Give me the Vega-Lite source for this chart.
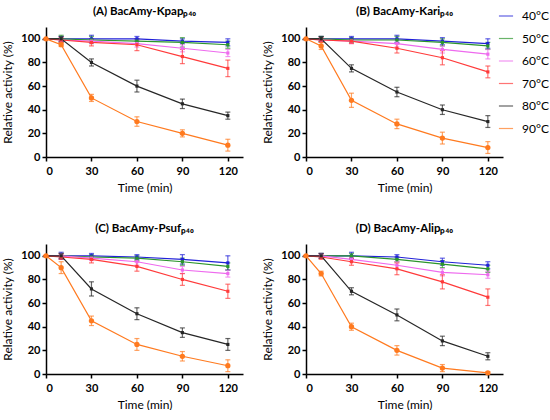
{
  "$schema": "https://vega.github.io/schema/vega-lite/v6.json",
  "padding": {"left": 1, "top": 5, "right": 0, "bottom": 0},
  "background": "white",
  "data": {"values": [
    {"p":"A","t":"40°C","x":0,"y":100,"e":0},{"p":"A","t":"40°C","x":10,"y":100,"e":2},{"p":"A","t":"40°C","x":30,"y":100,"e":3},{"p":"A","t":"40°C","x":60,"y":100,"e":2},{"p":"A","t":"40°C","x":90,"y":98,"e":2},{"p":"A","t":"40°C","x":120,"y":97,"e":3},
    {"p":"A","t":"50°C","x":0,"y":100,"e":0},{"p":"A","t":"50°C","x":10,"y":100,"e":3},{"p":"A","t":"50°C","x":30,"y":99,"e":3},{"p":"A","t":"50°C","x":60,"y":98,"e":2},{"p":"A","t":"50°C","x":90,"y":97,"e":4},{"p":"A","t":"50°C","x":120,"y":95,"e":3},
    {"p":"A","t":"60°C","x":0,"y":100,"e":0},{"p":"A","t":"60°C","x":10,"y":99,"e":2},{"p":"A","t":"60°C","x":30,"y":98,"e":2},{"p":"A","t":"60°C","x":60,"y":96,"e":3},{"p":"A","t":"60°C","x":90,"y":92,"e":3},{"p":"A","t":"60°C","x":120,"y":88,"e":3},
    {"p":"A","t":"70°C","x":0,"y":100,"e":0},{"p":"A","t":"70°C","x":10,"y":99,"e":2},{"p":"A","t":"70°C","x":30,"y":97,"e":3},{"p":"A","t":"70°C","x":60,"y":95,"e":5},{"p":"A","t":"70°C","x":90,"y":85,"e":6},{"p":"A","t":"70°C","x":120,"y":75,"e":7},
    {"p":"A","t":"80°C","x":0,"y":100,"e":0},{"p":"A","t":"80°C","x":10,"y":100,"e":2},{"p":"A","t":"80°C","x":30,"y":80,"e":3},{"p":"A","t":"80°C","x":60,"y":60,"e":5},{"p":"A","t":"80°C","x":90,"y":45,"e":4},{"p":"A","t":"80°C","x":120,"y":35,"e":3},
    {"p":"A","t":"90°C","x":0,"y":100,"e":0},{"p":"A","t":"90°C","x":10,"y":95,"e":1.5},{"p":"A","t":"90°C","x":30,"y":50,"e":3},{"p":"A","t":"90°C","x":60,"y":30,"e":4},{"p":"A","t":"90°C","x":90,"y":20,"e":3},{"p":"A","t":"90°C","x":120,"y":10,"e":5},

    {"p":"B","t":"40°C","x":0,"y":100,"e":0},{"p":"B","t":"40°C","x":10,"y":100,"e":2},{"p":"B","t":"40°C","x":30,"y":100,"e":2},{"p":"B","t":"40°C","x":60,"y":100,"e":3},{"p":"B","t":"40°C","x":90,"y":98,"e":3},{"p":"B","t":"40°C","x":120,"y":96,"e":4},
    {"p":"B","t":"50°C","x":0,"y":100,"e":0},{"p":"B","t":"50°C","x":10,"y":100,"e":2},{"p":"B","t":"50°C","x":30,"y":99,"e":2},{"p":"B","t":"50°C","x":60,"y":99,"e":3},{"p":"B","t":"50°C","x":90,"y":97,"e":3},{"p":"B","t":"50°C","x":120,"y":94,"e":3},
    {"p":"B","t":"60°C","x":0,"y":100,"e":0},{"p":"B","t":"60°C","x":10,"y":99,"e":2},{"p":"B","t":"60°C","x":30,"y":98,"e":2},{"p":"B","t":"60°C","x":60,"y":96,"e":3},{"p":"B","t":"60°C","x":90,"y":91,"e":3},{"p":"B","t":"60°C","x":120,"y":87,"e":4},
    {"p":"B","t":"70°C","x":0,"y":100,"e":0},{"p":"B","t":"70°C","x":10,"y":99,"e":2},{"p":"B","t":"70°C","x":30,"y":98,"e":2},{"p":"B","t":"70°C","x":60,"y":92,"e":4},{"p":"B","t":"70°C","x":90,"y":84,"e":6},{"p":"B","t":"70°C","x":120,"y":72,"e":5},
    {"p":"B","t":"80°C","x":0,"y":100,"e":0},{"p":"B","t":"80°C","x":10,"y":100,"e":2},{"p":"B","t":"80°C","x":30,"y":75,"e":3},{"p":"B","t":"80°C","x":60,"y":55,"e":4},{"p":"B","t":"80°C","x":90,"y":40,"e":4},{"p":"B","t":"80°C","x":120,"y":30,"e":5},
    {"p":"B","t":"90°C","x":0,"y":100,"e":0},{"p":"B","t":"90°C","x":10,"y":94,"e":3},{"p":"B","t":"90°C","x":30,"y":48,"e":6},{"p":"B","t":"90°C","x":60,"y":28,"e":4},{"p":"B","t":"90°C","x":90,"y":16,"e":5},{"p":"B","t":"90°C","x":120,"y":8,"e":5},

    {"p":"C","t":"40°C","x":0,"y":100,"e":0},{"p":"C","t":"40°C","x":10,"y":100,"e":3},{"p":"C","t":"40°C","x":30,"y":100,"e":2},{"p":"C","t":"40°C","x":60,"y":99,"e":2},{"p":"C","t":"40°C","x":90,"y":97,"e":4},{"p":"C","t":"40°C","x":120,"y":94,"e":6},
    {"p":"C","t":"50°C","x":0,"y":100,"e":0},{"p":"C","t":"50°C","x":10,"y":100,"e":2},{"p":"C","t":"50°C","x":30,"y":99,"e":2},{"p":"C","t":"50°C","x":60,"y":98,"e":2},{"p":"C","t":"50°C","x":90,"y":95,"e":3},{"p":"C","t":"50°C","x":120,"y":91,"e":3},
    {"p":"C","t":"60°C","x":0,"y":100,"e":0},{"p":"C","t":"60°C","x":10,"y":100,"e":2},{"p":"C","t":"60°C","x":30,"y":98,"e":2},{"p":"C","t":"60°C","x":60,"y":95,"e":3},{"p":"C","t":"60°C","x":90,"y":88,"e":3},{"p":"C","t":"60°C","x":120,"y":85,"e":3},
    {"p":"C","t":"70°C","x":0,"y":100,"e":0},{"p":"C","t":"70°C","x":10,"y":99,"e":2},{"p":"C","t":"70°C","x":30,"y":97,"e":3},{"p":"C","t":"70°C","x":60,"y":91,"e":4},{"p":"C","t":"70°C","x":90,"y":80,"e":5},{"p":"C","t":"70°C","x":120,"y":70,"e":6},
    {"p":"C","t":"80°C","x":0,"y":100,"e":0},{"p":"C","t":"80°C","x":10,"y":100,"e":2},{"p":"C","t":"80°C","x":30,"y":72,"e":6},{"p":"C","t":"80°C","x":60,"y":51,"e":5},{"p":"C","t":"80°C","x":90,"y":35,"e":4},{"p":"C","t":"80°C","x":120,"y":25,"e":5},
    {"p":"C","t":"90°C","x":0,"y":100,"e":0},{"p":"C","t":"90°C","x":10,"y":90,"e":5},{"p":"C","t":"90°C","x":30,"y":45,"e":4},{"p":"C","t":"90°C","x":60,"y":25,"e":5},{"p":"C","t":"90°C","x":90,"y":15,"e":4},{"p":"C","t":"90°C","x":120,"y":7,"e":5},

    {"p":"D","t":"40°C","x":0,"y":100,"e":0},{"p":"D","t":"40°C","x":10,"y":100,"e":2},{"p":"D","t":"40°C","x":30,"y":100,"e":3},{"p":"D","t":"40°C","x":60,"y":99,"e":2},{"p":"D","t":"40°C","x":90,"y":95,"e":3},{"p":"D","t":"40°C","x":120,"y":92,"e":3},
    {"p":"D","t":"50°C","x":0,"y":100,"e":0},{"p":"D","t":"50°C","x":10,"y":100,"e":2},{"p":"D","t":"50°C","x":30,"y":100,"e":2},{"p":"D","t":"50°C","x":60,"y":97,"e":2},{"p":"D","t":"50°C","x":90,"y":93,"e":3},{"p":"D","t":"50°C","x":120,"y":89,"e":3},
    {"p":"D","t":"60°C","x":0,"y":100,"e":0},{"p":"D","t":"60°C","x":10,"y":100,"e":2},{"p":"D","t":"60°C","x":30,"y":97,"e":2},{"p":"D","t":"60°C","x":60,"y":92,"e":3},{"p":"D","t":"60°C","x":90,"y":86,"e":3},{"p":"D","t":"60°C","x":120,"y":84,"e":3},
    {"p":"D","t":"70°C","x":0,"y":100,"e":0},{"p":"D","t":"70°C","x":10,"y":99,"e":2},{"p":"D","t":"70°C","x":30,"y":95,"e":3},{"p":"D","t":"70°C","x":60,"y":89,"e":5},{"p":"D","t":"70°C","x":90,"y":78,"e":6},{"p":"D","t":"70°C","x":120,"y":65,"e":7},
    {"p":"D","t":"80°C","x":0,"y":100,"e":0},{"p":"D","t":"80°C","x":10,"y":100,"e":2},{"p":"D","t":"80°C","x":30,"y":70,"e":3},{"p":"D","t":"80°C","x":60,"y":50,"e":5},{"p":"D","t":"80°C","x":90,"y":28,"e":4},{"p":"D","t":"80°C","x":120,"y":15,"e":3},
    {"p":"D","t":"90°C","x":0,"y":100,"e":0},{"p":"D","t":"90°C","x":10,"y":85,"e":2},{"p":"D","t":"90°C","x":30,"y":40,"e":3},{"p":"D","t":"90°C","x":60,"y":20,"e":4},{"p":"D","t":"90°C","x":90,"y":5,"e":3},{"p":"D","t":"90°C","x":120,"y":1,"e":1}
  ]},
  "spacing": 29,
  "vconcat": [
    {"hconcat": [
      {
        "title": {"text": "(A) BacAmy-Kpapₚ₄₀", "frame": "group", "anchor": "middle"},
        "width": 197, "height": 130,
        "transform": [{"filter": "datum.p == 'A'"}],
        "encoding": {
          "x": {"field": "x", "type": "quantitative", "scale": {"domain": [0, 130], "nice": false}, "axis": {"values": [0, 30, 60, 90, 120], "title": "Time (min)"}},
          "y": {"field": "y", "type": "quantitative", "scale": {"domain": [0, 110], "nice": false}, "axis": {"values": [0, 20, 40, 60, 80, 100], "title": "Relative activity (%)"}},
          "color": {"field": "t", "type": "nominal", "scale": {"domain": ["40°C","50°C","60°C","70°C","80°C","90°C"], "range": ["#2121d8","#2b952b","#ee6aee","#ff3a3a","#262626","#ff7a1f"]}, "legend": {"title": null, "orient": "none", "legendX": 452, "legendY": -19, "symbolType": "stroke"}}
        },
        "layer": [
          {"mark": {"type": "errorbar", "ticks": {"size": 5}, "thickness": 1.2, "opacity": 0.7}, "encoding": {"yError": {"field": "e"}}},
          {"transform": [{"filter": "datum.t != '90°C'"}], "mark": {"type": "line", "strokeWidth": 1.2, "point": {"filled": true, "shape": "square", "size": 10, "opacity": 1}}},
          {"transform": [{"filter": "datum.t == '90°C'"}], "mark": {"type": "line", "strokeWidth": 1.2, "point": {"filled": true, "shape": "circle", "size": 28, "opacity": 1}}}
        ]
      },
      {
        "title": {"text": "(B) BacAmy-Kariₚ₄₀", "frame": "group", "anchor": "middle"},
        "width": 197, "height": 130,
        "transform": [{"filter": "datum.p == 'B'"}],
        "encoding": {
          "x": {"field": "x", "type": "quantitative", "scale": {"domain": [0, 130], "nice": false}, "axis": {"values": [0, 30, 60, 90, 120], "title": "Time (min)"}},
          "y": {"field": "y", "type": "quantitative", "scale": {"domain": [0, 110], "nice": false}, "axis": {"values": [0, 20, 40, 60, 80, 100], "title": "Relative activity (%)"}},
          "color": {"field": "t", "type": "nominal", "scale": {"domain": ["40°C","50°C","60°C","70°C","80°C","90°C"], "range": ["#2121d8","#2b952b","#ee6aee","#ff3a3a","#262626","#ff7a1f"]}, "legend": {"title": null, "orient": "none", "legendX": 452, "legendY": -19, "symbolType": "stroke"}}
        },
        "layer": [
          {"mark": {"type": "errorbar", "ticks": {"size": 5}, "thickness": 1.2, "opacity": 0.7}, "encoding": {"yError": {"field": "e"}}},
          {"transform": [{"filter": "datum.t != '90°C'"}], "mark": {"type": "line", "strokeWidth": 1.2, "point": {"filled": true, "shape": "square", "size": 10, "opacity": 1}}},
          {"transform": [{"filter": "datum.t == '90°C'"}], "mark": {"type": "line", "strokeWidth": 1.2, "point": {"filled": true, "shape": "circle", "size": 28, "opacity": 1}}}
        ]
      }
    ]},
    {"hconcat": [
      {
        "title": {"text": "(C) BacAmy-Psufₚ₄₀", "frame": "group", "anchor": "middle"},
        "width": 197, "height": 130,
        "transform": [{"filter": "datum.p == 'C'"}],
        "encoding": {
          "x": {"field": "x", "type": "quantitative", "scale": {"domain": [0, 130], "nice": false}, "axis": {"values": [0, 30, 60, 90, 120], "title": "Time (min)"}},
          "y": {"field": "y", "type": "quantitative", "scale": {"domain": [0, 110], "nice": false}, "axis": {"values": [0, 20, 40, 60, 80, 100], "title": "Relative activity (%)"}},
          "color": {"field": "t", "type": "nominal", "scale": {"domain": ["40°C","50°C","60°C","70°C","80°C","90°C"], "range": ["#2121d8","#2b952b","#ee6aee","#ff3a3a","#262626","#ff7a1f"]}, "legend": {"title": null, "orient": "none", "legendX": 452, "legendY": -19, "symbolType": "stroke"}}
        },
        "layer": [
          {"mark": {"type": "errorbar", "ticks": {"size": 5}, "thickness": 1.2, "opacity": 0.7}, "encoding": {"yError": {"field": "e"}}},
          {"transform": [{"filter": "datum.t != '90°C'"}], "mark": {"type": "line", "strokeWidth": 1.2, "point": {"filled": true, "shape": "square", "size": 10, "opacity": 1}}},
          {"transform": [{"filter": "datum.t == '90°C'"}], "mark": {"type": "line", "strokeWidth": 1.2, "point": {"filled": true, "shape": "circle", "size": 28, "opacity": 1}}}
        ]
      },
      {
        "title": {"text": "(D) BacAmy-Alipₚ₄₀", "frame": "group", "anchor": "middle"},
        "width": 197, "height": 130,
        "transform": [{"filter": "datum.p == 'D'"}],
        "encoding": {
          "x": {"field": "x", "type": "quantitative", "scale": {"domain": [0, 130], "nice": false}, "axis": {"values": [0, 30, 60, 90, 120], "title": "Time (min)"}},
          "y": {"field": "y", "type": "quantitative", "scale": {"domain": [0, 110], "nice": false}, "axis": {"values": [0, 20, 40, 60, 80, 100], "title": "Relative activity (%)"}},
          "color": {"field": "t", "type": "nominal", "scale": {"domain": ["40°C","50°C","60°C","70°C","80°C","90°C"], "range": ["#2121d8","#2b952b","#ee6aee","#ff3a3a","#262626","#ff7a1f"]}, "legend": {"title": null, "orient": "none", "legendX": 452, "legendY": -19, "symbolType": "stroke"}}
        },
        "layer": [
          {"mark": {"type": "errorbar", "ticks": {"size": 5}, "thickness": 1.2, "opacity": 0.7}, "encoding": {"yError": {"field": "e"}}},
          {"transform": [{"filter": "datum.t != '90°C'"}], "mark": {"type": "line", "strokeWidth": 1.2, "point": {"filled": true, "shape": "square", "size": 10, "opacity": 1}}},
          {"transform": [{"filter": "datum.t == '90°C'"}], "mark": {"type": "line", "strokeWidth": 1.2, "point": {"filled": true, "shape": "circle", "size": 28, "opacity": 1}}}
        ]
      }
    ]}
  ],
  "config": {
    "font": "Lato",
    "view": {"stroke": null},
    "concat": {"spacing": 18},
    "axis": {
      "grid": false,
      "domainColor": "#000", "domainWidth": 1.5,
      "tickColor": "#000", "tickWidth": 1.5, "tickSize": 4,
      "labelFont": "Lato", "labelFontWeight": "bold", "labelFontSize": 11, "labelColor": "#000", "labelPadding": 2,
      "titleFont": "Lato", "titleFontWeight": "normal", "titleFontSize": 12, "titleColor": "#000", "titlePadding": 6
    },
    "axisX": {"labelPadding": 4},
    "title": {"font": "Lato", "fontSize": 11.5, "fontWeight": "bold", "color": "#000", "offset": 10},
    "legend": {"labelFont": "Lato", "labelFontSize": 12, "labelColor": "#000", "symbolType": "stroke", "symbolSize": 200, "symbolStrokeWidth": 1.2, "rowPadding": 8.5, "labelOffset": 8}
  }
}
